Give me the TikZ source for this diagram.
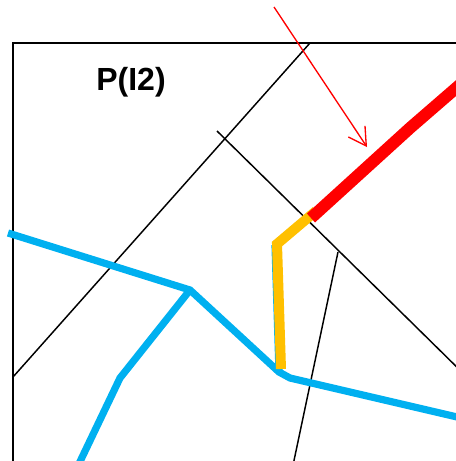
\documentclass[tikz,border=0pt]{standalone}
\usepackage{fontspec}
\setmainfont{Liberation Sans}
\usetikzlibrary{arrows.meta}
\definecolor{cyanline}{HTML}{00B0F0}
\definecolor{orangeline}{HTML}{FFC000}
\definecolor{redline}{HTML}{FF0000}
\tikzset{
  thinblack/.style={draw=black, line width=1.1pt},
  cyanpath/.style={draw=cyanline, line width=5.4pt, line join=miter},
  orangepath/.style={draw=orangeline, line width=7.5pt, line join=miter},
  redpath/.style={draw=redline, line width=9pt},
  redarrow/.style={draw=redline, line width=1pt, -{Straight Barb[length=13pt, width=15pt, line width=1pt]}},
  label/.style={font=\bfseries\fontsize{24}{28}\selectfont, inner sep=0pt}
}
\begin{document}
\begin{tikzpicture}[x=0.75pt, y=-0.75pt]
\useasboundingbox (0,0) rectangle (456,461);
\clip (0,0) rectangle (456,461);
% frame
\draw[thinblack] (13,470) -- (13,43) -- (470,43);
% black lines
\coordinate (a1) at (310,43);
\coordinate (a2) at (13,377);
\draw[thinblack] (a1) -- (a2);
\coordinate (b1) at (217,131);
\coordinate (b2) at (470,380);
\draw[thinblack] (b1) -- (b2);
\coordinate (c1) at (338,252);
\coordinate (c2) at (292,470);
\draw[thinblack] (c1) -- (c2);
% cyan
\coordinate (k0) at (8,233);
\coordinate (k1) at (190,290);
\coordinate (k2) at (279,372);
\coordinate (k3) at (290,378);
\coordinate (k4) at (470,420);
\coordinate (k5) at (120,378);
\coordinate (k6) at (76,470);
\coordinate (k7) at (275,245);
\draw[cyanpath] (k0) -- (k1) -- (k2) -- (k3) -- (k4);
\draw[cyanpath] (k1) -- (k5) -- (k6);
\draw[cyanpath] (k7) -- (k2);
% orange
\coordinate (o0) at (316,211);
\coordinate (o1) at (277,244);
\coordinate (o2) at (281,369);
\draw[orangepath] (o0) -- (o1) -- (o2);
% red thick
\coordinate (r0) at (311,218);
\coordinate (r1) at (410,128);
\coordinate (r2) at (470,76);
\draw[redpath] (r0) -- (r1) -- (r2);
% red arrow
\coordinate (ra) at (274,7);
\coordinate (rb) at (367,147);
\draw[redarrow] (ra) -- (rb);
% label
\node[label] (lbl) at (131,82) {P(I2)};
\end{tikzpicture}
\end{document}
